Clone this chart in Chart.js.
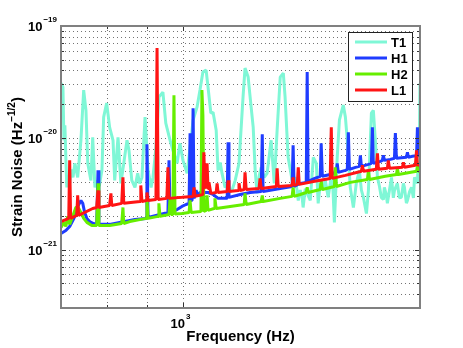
<!DOCTYPE html>
<html><head><meta charset="utf-8">
<script src="https://cdn.jsdelivr.net/npm/chart.js@4.4.0/dist/chart.umd.min.js"></script>
<style>html,body{margin:0;padding:0;background:#fff;}canvas{display:block;}</style>
</head><body>
<canvas id="c" width="463" height="348"></canvas>
<script>
// ---- data: [frequency (Hz), strain noise (1/sqrt(Hz))] ----
const seriesNames = ['T1', 'H1', 'H2', 'L1'];

const t1Points = [[700,3.08e-20],[704,2.84e-20],[706,9.5e-21],[708,1.29e-20],[710,6.68e-21],[712,3.6e-21],[715,4.6e-21],[718,3.91e-21],[721,5.2e-21],[725,4.42e-21],[729,5.9e-21],[735,4.42e-21],[742,9.5e-21],[748,2.67e-20],[753,1.76e-20],[757,5.9e-21],[764,4.16e-21],[768,1.01e-20],[773,3.6e-21],[777,4.16e-21],[783,3.7e-21],[789,5.11e-21],[793,1.53e-20],[800,2.04e-20],[807,1.24e-20],[815,9.5e-21],[819,4.16e-21],[827,1.01e-20],[834,3.91e-21],[841,5.9e-21],[849,9.5e-21],[854,7.73e-21],[861,4.16e-21],[869,3.6e-21],[876,4.8e-21],[881,3.9e-21],[887,4.42e-21],[895,1.53e-20],[903,5.11e-21],[911,3.6e-21],[916,4.42e-21],[924,8.22e-21],[932,2.31e-20],[943,2.56e-20],[951,1.35e-20],[963,9.5e-21],[971,7.73e-21],[983,5.9e-21],[991,8.93e-21],[1000,6.28e-21],[1012,4.8e-21],[1021,8.22e-21],[1030,1.435e-20],[1042,1.88e-20],[1051,2.67e-20],[1060,3.87e-20],[1070,4.03e-20],[1076,2.84e-20],[1085,1.66e-20],[1092,1.69e-20],[1102,1.17e-20],[1108,5.11e-21],[1115,6.0e-21],[1121,4.8e-21],[1131,3.6e-21],[1141,3.91e-21],[1148,3.3e-21],[1154,3.38e-21],[1165,4.16e-21],[1178,5.9e-21],[1192,2.31e-20],[1199,4.2e-20],[1210,3.49e-20],[1217,2.31e-20],[1228,1.24e-20],[1235,5.11e-21],[1242,3.18e-21],[1250,4.6e-21],[1257,5.44e-21],[1268,4.42e-21],[1279,4.8e-21],[1294,9.5e-21],[1306,3.91e-21],[1317,1.17e-20],[1329,3.49e-20],[1341,3.79e-20],[1348,2.31e-20],[1360,6.68e-21],[1376,4.16e-21],[1389,4.42e-21],[1401,2.75e-21],[1409,3.4e-21],[1417,2.93e-21],[1421,2.38e-21],[1430,3.5e-21],[1438,3.18e-21],[1451,2.75e-21],[1464,6.68e-21],[1477,5.9e-21],[1485,2.59e-21],[1494,3.9e-21],[1503,3.38e-21],[1516,4.16e-21],[1529,2.93e-21],[1547,5.11e-21],[1557,1.75e-21],[1570,6.68e-21],[1580,1.435e-20],[1598,1.96e-20],[1608,1.53e-20],[1617,9.5e-21],[1631,3.6e-21],[1646,2.38e-21],[1660,3.91e-21],[1675,5.11e-21],[1685,3.4e-21],[1695,2.93e-21],[1710,2.1e-21],[1720,3.38e-21],[1735,1.66e-20],[1745,1.76e-20],[1755,9.5e-21],[1766,4.42e-21],[1776,3.7e-21],[1786,2.93e-21],[1797,2.8e-21],[1802,3.6e-21],[1812,3.1e-21],[1818,2.59e-21],[1829,3.4e-21],[1840,4.42e-21],[1850,2.9e-21],[1856,3.38e-21],[1872,3.91e-21],[1883,2.9e-21],[1894,2.93e-21],[1905,3.9e-21],[1911,3.6e-21],[1922,2.6e-21],[1928,2.75e-21],[1940,3.3e-21],[1951,3.6e-21],[1962,2.9e-21],[1968,4.42e-21],[1985,3.91e-21],[1997,1.17e-20],[2000,3.08e-20]];

const h1Points = [[700,1.39e-21],[710,1.48e-21],[718,1.61e-21],[727,1.90e-21],[735,2.43e-21],[742,2.75e-21],[746,2.59e-21],[750,2.15e-21],[755,1.90e-21],[761,1.78e-21],[770,1.71e-21],[777,1.68e-21],[780,5.11e-21],[782,1.68e-21],[807,1.68e-21],[831,1.75e-21],[869,1.86e-21],[898,1.90e-21],[900,8.74e-21],[903,1.94e-21],[935,2.06e-21],[957,2.15e-21],[960,6.28e-21],[963,2.15e-21],[983,2.28e-21],[997,2.43e-21],[1009,2.53e-21],[1018,2.59e-21],[1021,1.10e-20],[1024,2.75e-21],[1027,2.75e-21],[1030,1.84e-20],[1033,2.87e-21],[1039,3.4e-21],[1045,3.0e-21],[1051,3.24e-21],[1076,3.24e-21],[1092,3.11e-21],[1108,2.87e-21],[1138,2.87e-21],[1141,9.11e-21],[1144,2.93e-21],[1182,3.11e-21],[1217,3.24e-21],[1257,3.31e-21],[1261,1.075e-20],[1264,3.31e-21],[1329,3.52e-21],[1376,3.67e-21],[1380,8.57e-21],[1384,3.67e-21],[1409,3.91e-21],[1434,3.99e-21],[1438,3.87e-20],[1442,4.08e-21],[1470,4.33e-21],[1494,4.52e-21],[1498,8.93e-21],[1503,4.52e-21],[1538,4.70e-21],[1566,4.9e-21],[1570,5.9e-21],[1575,4.9e-21],[1608,5.11e-21],[1617,5.22e-21],[1622,1.12e-20],[1627,5.22e-21],[1656,5.44e-21],[1675,5.55e-21],[1680,6.97e-21],[1685,5.55e-21],[1720,5.78e-21],[1735,5.9e-21],[1740,1.24e-20],[1745,5.9e-21],[1781,6.15e-21],[1791,6.28e-21],[1797,6.97e-21],[1802,6.28e-21],[1834,6.41e-21],[1856,6.55e-21],[1861,1.10e-20],[1867,6.55e-21],[1922,6.68e-21],[1928,7.41e-21],[1933,6.68e-21],[1956,6.83e-21],[1980,6.9e-21],[1985,1.24e-20],[1991,6.9e-21],[2000,6.97e-21]];

const h2Points = [[700,1.575e-21],[706,1.75e-21],[710,1.61e-21],[714,1.98e-21],[718,1.68e-21],[725,2.02e-21],[731,2.38e-21],[735,2.43e-21],[742,2.15e-21],[748,1.90e-21],[755,1.75e-21],[766,1.64e-21],[777,1.64e-21],[780,3.91e-21],[782,1.64e-21],[807,1.64e-21],[836,1.71e-21],[839,2.38e-21],[841,1.71e-21],[856,1.78e-21],[898,1.90e-21],[900,2.87e-21],[903,1.90e-21],[930,1.98e-21],[932,2.59e-21],[935,1.98e-21],[960,2.06e-21],[963,2.93e-21],[966,2.06e-21],[971,2.06e-21],[974,2.4e-20],[977,2.08e-21],[997,2.10e-21],[1018,2.15e-21],[1021,2.75e-21],[1024,2.15e-21],[1054,2.19e-21],[1057,2.67e-20],[1060,1.59e-20],[1063,2.19e-21],[1070,2.24e-21],[1073,3.05e-21],[1076,2.24e-21],[1095,2.33e-21],[1098,2.87e-21],[1102,2.33e-21],[1148,2.43e-21],[1196,2.53e-21],[1199,3.18e-21],[1203,2.53e-21],[1257,2.69e-21],[1261,3.05e-21],[1264,2.69e-21],[1329,2.87e-21],[1376,2.99e-21],[1380,3.6e-21],[1384,2.99e-21],[1409,3.11e-21],[1434,3.24e-21],[1438,3.6e-21],[1442,3.24e-21],[1494,3.45e-21],[1498,4.16e-21],[1503,3.45e-21],[1557,3.67e-21],[1561,5.44e-21],[1566,3.67e-21],[1631,3.99e-21],[1715,4.24e-21],[1720,5.11e-21],[1725,4.24e-21],[1807,4.52e-21],[1867,4.70e-21],[1872,5.33e-21],[1878,4.70e-21],[1980,5.01e-21],[1985,5.55e-21],[1991,5.01e-21],[2000,5.01e-21]];

const l1Points = [[700,1.78e-21],[716,1.90e-21],[718,6.28e-21],[720,1.90e-21],[733,2.02e-21],[735,3.05e-21],[737,2.02e-21],[768,2.33e-21],[777,2.38e-21],[780,3.38e-21],[782,2.38e-21],[807,2.48e-21],[810,3.18e-21],[812,2.48e-21],[836,2.59e-21],[839,4.42e-21],[841,2.59e-21],[882,2.69e-21],[884,3.75e-21],[887,2.69e-21],[898,2.75e-21],[900,3.24e-21],[903,2.75e-21],[924,2.81e-21],[927,6.35e-20],[930,2.81e-21],[954,2.87e-21],[957,5.44e-21],[960,2.87e-21],[997,2.93e-21],[1030,2.99e-21],[1033,3.6e-21],[1036,2.99e-21],[1060,3.11e-21],[1063,7.41e-21],[1066,3.75e-21],[1070,3.52e-21],[1073,5.9e-21],[1076,3.52e-21],[1079,3.99e-21],[1085,3.18e-21],[1102,3.24e-21],[1105,3.91e-21],[1108,3.24e-21],[1138,3.31e-21],[1141,4.16e-21],[1144,3.31e-21],[1175,3.38e-21],[1178,3.91e-21],[1182,3.38e-21],[1196,3.45e-21],[1199,4.9e-21],[1203,3.45e-21],[1249,3.52e-21],[1253,4.33e-21],[1257,3.52e-21],[1314,3.67e-21],[1317,5.33e-21],[1321,3.67e-21],[1376,3.75e-21],[1380,4.42e-21],[1384,3.75e-21],[1397,3.83e-21],[1401,5.44e-21],[1405,3.83e-21],[1470,4.08e-21],[1538,4.33e-21],[1543,1.24e-20],[1547,4.33e-21],[1608,4.61e-21],[1685,5.01e-21],[1690,5.67e-21],[1695,5.01e-21],[1760,5.22e-21],[1766,7.27e-21],[1771,5.22e-21],[1818,5.33e-21],[1823,6.28e-21],[1829,5.33e-21],[1900,5.44e-21],[1905,6.03e-21],[1911,5.44e-21],[1973,5.67e-21],[1980,7.73e-21],[1985,5.67e-21],[2000,5.78e-21]];

// ---- axes: ranges, gridlines, tick labels ----
const xRange = [700, 2000];
const yRange = [3e-22, 1e-19];
const xGridValues = [800, 900, 1000, 2000];
const xMajorTicks = [1000];
const yGridValues = [4e-22,5e-22,6e-22,7e-22,8e-22,9e-22,1e-21,2e-21,3e-21,4e-21,5e-21,6e-21,7e-21,8e-21,9e-21,1e-20,2e-20,3e-20,4e-20,5e-20,6e-20,7e-20,8e-20,9e-20,1e-19];
const yMajorTicks = [1e-21, 1e-20, 1e-19];
const xTickBase = ['10'];
const xTickExp = ['3'];
const yTickBase = ['10', '10', '10'];
const yTickExp = ['\u221221', '\u221220', '\u221219'];
const xTitle = 'Frequency (Hz)';
const yTitleMain = 'Strain Noise (Hz';
const yTitleSup = '\u22121/2';
const yTitleEnd = ')';

const colors = ['#7ff7d6', '#1f3cff', '#66ee00', '#ff1414'];

const FONT = '"Liberation Sans", Arial, Helvetica, sans-serif';

const toXY = pts => pts.map(p => ({x: p[0], y: p[1]}));
const allPoints = [t1Points, h1Points, h2Points, l1Points];

const datasets = allPoints.map((pts, i) => ({
  label: seriesNames[i],
  data: toXY(pts),
  borderColor: colors[i],
  backgroundColor: colors[i],
  borderWidth: 3,
  pointRadius: 0,
  tension: 0,
  fill: false,
  borderJoinStyle: 'bevel',
  clip: 0,
  order: 3 - i
}));

const matlabPlugin = {
  id: 'matlabAxes',
  beforeDatasetsDraw(chart) {
    const {ctx, chartArea: a, scales: {x, y}} = chart;
    ctx.save();
    ctx.strokeStyle = 'rgba(0,0,0,0.55)';
    ctx.lineWidth = 1;
    ctx.setLineDash([1, 3]);
    yGridValues.forEach(v => {
      const py = Math.round(y.getPixelForValue(v)) + 0.5;
      ctx.beginPath(); ctx.moveTo(a.left, py); ctx.lineTo(a.right, py); ctx.stroke();
    });
    xGridValues.forEach(v => {
      const px = Math.round(x.getPixelForValue(v)) + 0.5;
      ctx.beginPath(); ctx.moveTo(px, a.top); ctx.lineTo(px, a.bottom); ctx.stroke();
    });
    ctx.restore();
  },
  afterDatasetsDraw(chart) {
    const {ctx, chartArea: a, scales: {x, y}} = chart;
    ctx.save();
    // tick marks (inside)
    ctx.strokeStyle = '#333';
    ctx.lineWidth = 1;
    yGridValues.forEach(v => {
      const py = Math.round(y.getPixelForValue(v)) + 0.5;
      const len = yMajorTicks.includes(v) ? 5 : 3;
      ctx.beginPath(); ctx.moveTo(a.left, py); ctx.lineTo(a.left + len, py);
      ctx.moveTo(a.right, py); ctx.lineTo(a.right - len, py); ctx.stroke();
    });
    xGridValues.forEach(v => {
      const px = Math.round(x.getPixelForValue(v)) + 0.5;
      const len = xMajorTicks.includes(v) ? 5 : 3;
      ctx.beginPath(); ctx.moveTo(px, a.bottom); ctx.lineTo(px, a.bottom - len);
      ctx.moveTo(px, a.top); ctx.lineTo(px, a.top + len); ctx.stroke();
    });
    // frame
    ctx.strokeStyle = '#808080';
    ctx.lineWidth = 2;
    ctx.strokeRect(a.left, a.top, a.right - a.left, a.bottom - a.top);

    // y tick labels
    ctx.fillStyle = '#000';
    ctx.textBaseline = 'alphabetic';
    yMajorTicks.forEach((v, i) => {
      const py = y.getPixelForValue(v);
      ctx.font = 'bold 8px ' + FONT;
      const ew = ctx.measureText(yTickExp[i]).width;
      const right = a.left - 4;
      ctx.textAlign = 'left';
      ctx.fillText(yTickExp[i], right - ew, py - 4);
      ctx.font = 'bold 13px ' + FONT;
      ctx.textAlign = 'right';
      ctx.fillText(yTickBase[i], right - ew - 1, py + 5);
    });
    // x tick labels
    xMajorTicks.forEach((v, i) => {
      const px = x.getPixelForValue(v);
      ctx.font = 'bold 13px ' + FONT;
      ctx.textAlign = 'right';
      ctx.fillText(xTickBase[i], px + 2, a.bottom + 20);
      ctx.font = 'bold 8px ' + FONT;
      ctx.textAlign = 'left';
      ctx.fillText(xTickExp[i], px + 3, a.bottom + 11);
    });
    // x title
    ctx.font = 'bold 15px ' + FONT;
    ctx.textAlign = 'center';
    ctx.fillText(xTitle, (a.left + a.right) / 2, 341);
    // y title (rotated, with superscript)
    ctx.save();
    ctx.translate(22, (a.top + a.bottom) / 2);
    ctx.rotate(-Math.PI / 2);
    ctx.textAlign = 'left';
    ctx.font = 'bold 15px ' + FONT;
    const w1 = ctx.measureText(yTitleMain).width;
    const w3 = ctx.measureText(yTitleEnd).width;
    ctx.font = 'bold 10px ' + FONT;
    const w2 = ctx.measureText(yTitleSup).width;
    const sx = -(w1 + w2 + w3) / 2;
    ctx.font = 'bold 15px ' + FONT;
    ctx.fillText(yTitleMain, sx, 0);
    ctx.font = 'bold 10px ' + FONT;
    ctx.fillText(yTitleSup, sx + w1, -7);
    ctx.font = 'bold 15px ' + FONT;
    ctx.fillText(yTitleEnd, sx + w1 + w2, 0);
    ctx.restore();

    // legend box
    const lx = 348.5, ly = 32.5, lw = 64, lh = 69;
    ctx.fillStyle = '#fff';
    ctx.fillRect(lx, ly, lw, lh);
    ctx.strokeStyle = '#222';
    ctx.lineWidth = 1;
    ctx.strokeRect(lx, ly, lw, lh);
    const rows = [42, 58, 74, 90];
    seriesNames.forEach((name, i) => {
      ctx.strokeStyle = colors[i];
      ctx.lineWidth = 3;
      ctx.beginPath(); ctx.moveTo(355, rows[i]); ctx.lineTo(387, rows[i]); ctx.stroke();
      ctx.fillStyle = '#000';
      ctx.font = 'bold 13px ' + FONT;
      ctx.textAlign = 'left';
      ctx.textBaseline = 'middle';
      ctx.fillText(name, 391, rows[i] + 1);
    });
    ctx.restore();
  }
};

new Chart(document.getElementById('c'), {
  type: 'line',
  data: { datasets },
  options: {
    responsive: false,
    animation: false,
    devicePixelRatio: 1,
    layout: { padding: { left: 0, right: 43, top: 26, bottom: 0 } },
    plugins: { legend: { display: false }, tooltip: { enabled: false } },
    scales: {
      x: {
        type: 'logarithmic', min: xRange[0], max: xRange[1], bounds: 'data',
        ticks: { display: false }, grid: { display: false }, border: { display: false },
        afterFit(s) { s.height = 40; }
      },
      y: {
        type: 'logarithmic', min: yRange[0], max: yRange[1], bounds: 'data',
        ticks: { display: false }, grid: { display: false }, border: { display: false },
        afterFit(s) { s.width = 61; }
      }
    }
  },
  plugins: [matlabPlugin]
});
</script>
</body></html>
